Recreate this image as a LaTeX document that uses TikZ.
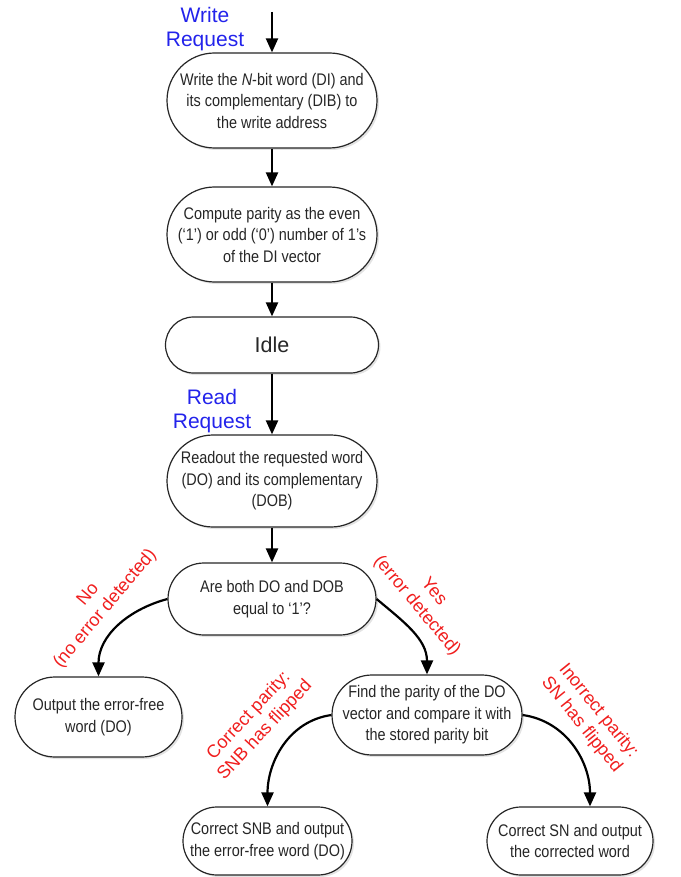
\documentclass[tikz,border=0pt]{standalone}
\usepackage{fontspec}
\setmainfont{Liberation Sans}
\newfontfamily\boxfont{Liberation Sans}[FakeStretch=0.86]
\usetikzlibrary{arrows.meta,shadows}
\definecolor{reqblue}{RGB}{35,35,235}
\definecolor{condred}{RGB}{240,30,30}
\begin{document}
\begin{tikzpicture}[x=1pt,y=1pt,
  box/.style n args={3}{rectangle, draw=black!85, line width=1.2pt, fill=white,
    rounded corners=#3, minimum width=#1, minimum height=#2, inner sep=0pt,
    align=center, text=black!85, font=\boxfont\fontsize{16.8}{21.5}\selectfont,
    drop shadow={shadow xshift=2pt, shadow yshift=-2pt, opacity=0.22}},
  flow/.style={-{Triangle[width=12pt,length=14pt]}, line width=2.2pt},
  req/.style={text=reqblue, font=\fontsize{21}{24}\selectfont, align=center, inner sep=0pt},
  cond/.style={text=condred, font=\fontsize{18}{22}\selectfont, align=center, inner sep=0pt}]
\useasboundingbox (0,0) rectangle (680,-877);

% boxes
\node[box={210}{95}{47.5}] (w) at (272,-100.5) {Write the \textit{N}-bit word (DI) and\\its complementary (DIB) to\\the write address};
\node[box={210}{95}{47.5}] (p) at (272,-234.5) {Compute parity as the even\\(‘1’) or odd (‘0’) number of 1’s\\of the DI vector};
\node[box={213}{56}{28}, font=\fontsize{21.5}{24}\selectfont] (idle) at (272,-345) {Idle};
\node[box={210}{92}{46}] (r) at (272,-481) {Readout the requested word\\(DO) and its complementary\\(DOB)};
\node[box={208}{72}{36}] (d) at (272,-599) {Are both DO and DOB\\equal to ‘1’?};
\node[box={167}{80}{40}] (o) at (98.5,-717) {Output the error-free\\word (DO)};
\node[box={190}{80}{40}] (f) at (427,-715) {Find the parity of the DO\\vector and compare it with\\the stored parity bit};
\node[box={169}{68}{34}] (c1) at (267.5,-841) {Correct SNB and output\\the error-free word (DO)};
\node[box={166}{68}{34}] (c2) at (570,-841) {Correct SN and output\\the corrected word};

% labels
\node[req] (wr) at (205,-29) {Write\\Request};
\node[req] (rr) at (212,-411) {Read\\Request};
\node[cond, rotate=50] (no) at (97,-602) {No\\(no error detected)};
\node[cond, rotate=-50] (yes) at (425,-599) {Yes\\(error detected)};
\node[cond, rotate=47] (cp) at (257,-723) {Correct parity:\\SNB has flipped};
\node[cond, rotate=-51] (ip) at (590,-718) {Inorrect parity:\\SN has flipped};

% connectors
\coordinate (top) at (272,-12);
\draw[flow] (top) -- (w);
\draw[flow] (w) -- (p);
\draw[flow] (p) -- (idle);
\draw[flow] (idle) -- (r);
\draw[flow] (r) -- (d);
\draw[flow] (d.west) to[out=195,in=90] (o.north);
\draw[flow] (d.east) to[out=-40,in=90] (f.north);
\draw[flow] (f.west) to[out=188,in=90] (c1.north);
\draw[flow] (f.east) to[out=-8,in=90] ([xshift=20pt]c2.north);
\end{tikzpicture}
\end{document}
